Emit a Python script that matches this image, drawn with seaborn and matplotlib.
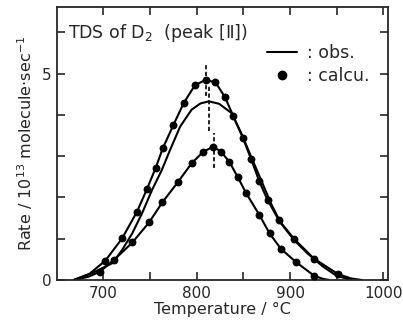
import matplotlib
matplotlib.use('Agg')
import matplotlib.pyplot as plt
from matplotlib.lines import Line2D
import seaborn as sns

# calculated points (dots)
upper_dot_T = [702, 720, 736, 746.5, 756, 763.5, 775, 786, 798, 809.4, 820, 830, 839, 849.5,
               858.2, 867, 875.8, 888, 904.2, 925.5, 951]
upper_dot_rate = [0.47, 1.01, 1.66, 2.20, 2.72, 3.19, 3.76, 4.29, 4.72, 4.85, 4.79, 4.44, 3.98, 3.44,
                  2.93, 2.39, 1.94, 1.45, 1.00, 0.52, 0.15]
lower_dot_T = [696, 711.4, 731, 749, 763, 780, 794.5, 807, 817.5, 826, 835, 844, 853, 867, 878,
               890, 906, 926]
lower_dot_rate = [0.20, 0.49, 0.91, 1.40, 1.88, 2.38, 2.83, 3.11, 3.23, 3.11, 2.86, 2.49, 2.10, 1.58,
                  1.13, 0.76, 0.44, 0.10]

# observed curves
upper_line_T = [668, 685] + upper_dot_T + [965, 977]
upper_line_rate = [0.0, 0.15] + upper_dot_rate + [0.04, 0.0]
lower_line_T = [668, 684] + lower_dot_T + [935, 942]
lower_line_rate = [0.0, 0.08] + lower_dot_rate + [0.03, 0.0]
mid_line_T = [668, 688, 709.6, 720, 730.8, 741.4, 752, 762.6, 771.5, 782.2, 794.5, 804, 813, 824,
              837, 847.6, 858.2, 868.8, 879.4, 890, 904.2, 918.4, 935, 950, 966]
mid_line_rate = [0.0, 0.17, 0.41, 0.73, 1.13, 1.62, 2.18, 2.67, 3.16, 3.72, 4.13, 4.28, 4.33, 4.27,
                 4.05, 3.56, 2.99, 2.43, 1.86, 1.38, 0.97, 0.65, 0.33, 0.10, 0.0]

# dashed peak markers
peak_T = [809.5, 813, 818]
peak_lo = [4.45, 3.6, 2.72]
peak_hi = [5.25, 4.7, 3.56]

sns.set_style("ticks")
plt.rcParams['font.family'] = ['DejaVu Sans']

fig = plt.figure(figsize=(4.03, 3.26), dpi=100)
ax = fig.add_axes([0.141, 0.141, 0.822, 0.838])

for T, r in [(upper_line_T, upper_line_rate), (mid_line_T, mid_line_rate), (lower_line_T, lower_line_rate)]:
    sns.lineplot(x=T, y=r, ax=ax, color='black', lw=1.5, sort=False, estimator=None)

for T, r in [(upper_dot_T, upper_dot_rate), (lower_dot_T, lower_dot_rate)]:
    sns.scatterplot(x=T, y=r, ax=ax, color='black', s=32, edgecolor='black', linewidth=0, zorder=3)

ax.vlines(peak_T, peak_lo, peak_hi, colors='black', linestyles=(0, (2.5, 1.5)), lw=1.2)

ax.set_xlim(650, 1005)
ax.set_ylim(0, 6.62)
ax.set_xticks([700, 750, 800, 850, 900, 950, 1000])
ax.set_xticklabels(['700', '', '800', '', '900', '', '1000'])
ax.set_yticks([0, 1, 2, 3, 4, 5, 6])
ax.set_yticklabels(['0', '', '', '', '', '5', ''])
ax.tick_params(direction='in', top=True, right=True, length=5.5, width=1.2, labelsize=11, pad=4)
for s in ax.spines.values():
    s.set_linewidth(1.3)

ax.set_xlabel('Temperature / °C', fontsize=11.5, labelpad=1)
ax.set_ylabel('Rate / 10$^{13}$ molecule·sec$^{-1}$', fontsize=11.5, labelpad=5)

ax.text(0.035, 0.905, 'TDS of D$_2$  (peak [Ⅱ])', transform=ax.transAxes, fontsize=12.5, va='center')

handles = [Line2D([], [], color='black', lw=1.5),
           Line2D([], [], color='black', marker='o', ls='', markersize=6)]
ax.legend(handles, [': obs.', ': calcu.'], loc='upper left', bbox_to_anchor=(0.635, 0.865),
          frameon=False, fontsize=12.5, handlelength=1.7, handletextpad=0.6,
          labelspacing=0.3, borderpad=0, borderaxespad=0)

fig.savefig('out.png', dpi=100)
